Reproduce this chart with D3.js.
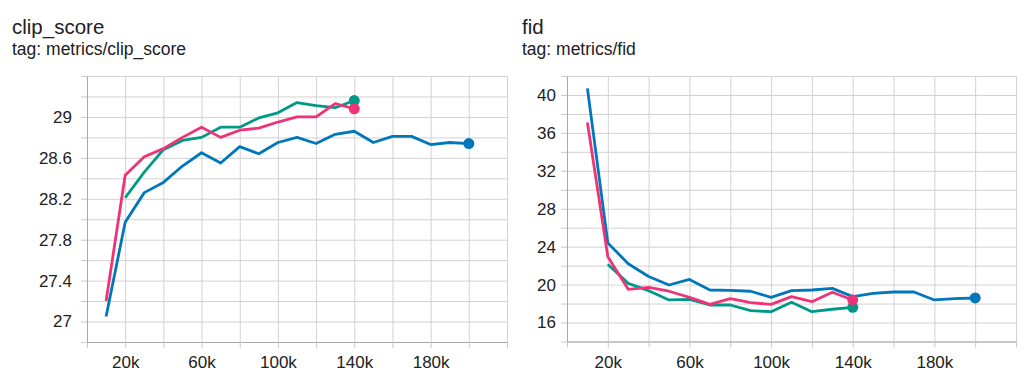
<!DOCTYPE html>
<html>
<head>
<meta charset="utf-8">
<script src="https://cdn.jsdelivr.net/npm/d3@7"></script>
<style>
    body { margin: 0; background: #fff; }
    svg { display: block; font-family: "Liberation Sans", Arial, sans-serif; }
</style>
</head>
<body>
<svg id="chart" width="1027" height="377"></svg>
<script>
// steps per run
const stepsBlue = [10000, 20000, 30000, 40000, 50000, 60000, 70000, 80000, 90000, 100000,
    110000, 120000, 130000, 140000, 150000, 160000, 170000, 180000, 190000, 200000];
const stepsGreen = [20000, 30000, 40000, 50000, 60000, 70000, 80000, 90000, 100000,
    110000, 120000, 130000, 140000];
const stepsPink = [10000, 20000, 30000, 40000, 50000, 60000, 70000, 80000, 90000, 100000,
    110000, 120000, 130000, 140000];

// metrics/clip_score
const clipBlue = [27.05, 27.97, 28.26, 28.36, 28.52, 28.65, 28.55, 28.71, 28.64, 28.75,
    28.80, 28.74, 28.83, 28.86, 28.75, 28.81, 28.81, 28.73, 28.75, 28.74];
const clipGreen = [28.21, 28.46, 28.68, 28.77, 28.80, 28.90, 28.90, 28.99, 29.04,
    29.14, 29.11, 29.09, 29.16];
const clipPink = [27.20, 28.43, 28.61, 28.69, 28.80, 28.90, 28.80, 28.87, 28.89, 28.95,
    29.00, 29.00, 29.13, 29.08];

// metrics/fid
const fidBlue = [40.7, 24.4, 22.2, 20.85, 19.96, 20.55, 19.43, 19.4, 19.3, 18.66,
    19.36, 19.43, 19.6, 18.73, 19.08, 19.22, 19.22, 18.38, 18.52, 18.59];
const fidGreen = [22.14, 20.13, 19.36, 18.38, 18.45, 17.85, 17.85, 17.25, 17.14,
    18.13, 17.14, 17.4, 17.6];
const fidPink = [37.1, 22.94, 19.5, 19.7, 19.3, 18.66, 17.92, 18.52, 18.1, 17.92,
    18.73, 18.2, 19.19, 18.38];

// tick labels
const xTickLabels = [20000, 60000, 100000, 140000, 180000];
const clipYTickLabels = [27, 27.4, 27.8, 28.2, 28.6, 29];
const fidYTickLabels = [16, 20, 24, 28, 32, 36, 40];

const colors = { blue: "#0077bb", green: "#009988", pink: "#ee3377" };

const svg = d3.select("#chart");

function drawChart(opts) {
    const g = svg.append("g");

    // Titles
    g.append("text")
        .attr("x", opts.titleX).attr("y", 34)
        .style("font-size", "20.5px").style("fill", "#212121")
        .text(opts.title);
    g.append("text")
        .attr("x", opts.titleX).attr("y", 55)
        .style("font-size", "17.5px").style("fill", "#212121")
        .text(opts.tag);

    const x = d3.scaleLinear().domain([0, 220000]).range(opts.xRange);
    const y = d3.scaleLinear().domain(opts.yDomain).range(opts.yRange);

    const xTicks = x.ticks(11);
    const yTicks = y.ticks(opts.yTickCount);
    const width = opts.xRange[1] - opts.xRange[0];
    const height = opts.yRange[0] - opts.yRange[1];

    // grid
    g.append("g")
        .attr("transform", `translate(0,${opts.yRange[0]})`)
        .call(d3.axisBottom(x).tickValues(xTicks).tickSize(-height).tickFormat(""))
        .call(a => a.select(".domain").remove())
        .call(a => a.selectAll("line").attr("stroke", "#d2d2d2"));
    g.append("g")
        .attr("transform", `translate(${opts.xRange[0]},0)`)
        .call(d3.axisLeft(y).tickValues(yTicks).tickSize(-width).tickFormat(""))
        .call(a => a.select(".domain").remove())
        .call(a => a.selectAll("line").attr("stroke", "#d2d2d2"));

    // axes
    const isLabel = (list, d) => list.some(v => Math.abs(v - d) < 1e-6);
    const xAxis = g.append("g")
        .attr("transform", `translate(0,${opts.yRange[0]})`)
        .call(d3.axisBottom(x).tickValues(xTicks).tickSize(6).tickSizeOuter(0).tickPadding(8)
            .tickFormat(d => isLabel(xTickLabels, d) ? d3.format("~s")(d) : ""));
    const yAxis = g.append("g")
        .attr("transform", `translate(${opts.xRange[0]},0)`)
        .call(d3.axisLeft(y).tickValues(yTicks).tickSize(6).tickSizeOuter(0).tickPadding(opts.yPad)
            .tickFormat(d => isLabel(opts.yLabels, d) ? d3.format("~g")(d) : ""));
    [xAxis, yAxis].forEach(a => {
        a.select(".domain").attr("stroke", "#a8a8a8");
        a.selectAll(".tick line").attr("stroke", "#c8c8c8");
        a.selectAll("text").style("font-size", "17px").style("fill", "#212121")
            .style("font-family", "'Liberation Sans', Arial, sans-serif");
    });

    const line = d3.line().x(d => x(d[0])).y(d => y(d[1]));

    opts.series.forEach(s => {
        const pts = s.steps.map((st, i) => [st, s.values[i]]);
        g.append("path")
            .datum(pts)
            .attr("fill", "none")
            .attr("stroke", s.color)
            .attr("stroke-width", 2.8)
            .attr("stroke-linejoin", "round")
            .attr("d", line);
    });
    opts.series.forEach(s => {
        const last = s.steps.length - 1;
        g.append("circle")
            .attr("cx", x(s.steps[last]))
            .attr("cy", y(s.values[last]))
            .attr("r", 5.5)
            .attr("fill", s.color);
    });
}

drawChart({
    title: "clip_score",
    tag: "tag: metrics/clip_score",
    titleX: 12,
    xRange: [87, 507],
    yDomain: [26.8, 29.4],
    yRange: [342, 76],
    yTickCount: 13,
    yLabels: clipYTickLabels,
    yPad: 9,
    series: [
        { steps: stepsBlue, values: clipBlue, color: colors.blue },
        { steps: stepsGreen, values: clipGreen, color: colors.green },
        { steps: stepsPink, values: clipPink, color: colors.pink }
    ]
});

drawChart({
    title: "fid",
    tag: "tag: metrics/fid",
    titleX: 522,
    xRange: [567, 1016],
    yDomain: [14, 42],
    yRange: [341.5, 76],
    yTickCount: 14,
    yLabels: fidYTickLabels,
    yPad: 5,
    series: [
        { steps: stepsBlue, values: fidBlue, color: colors.blue },
        { steps: stepsGreen, values: fidGreen, color: colors.green },
        { steps: stepsPink, values: fidPink, color: colors.pink }
    ]
});
</script>
</body>
</html>
